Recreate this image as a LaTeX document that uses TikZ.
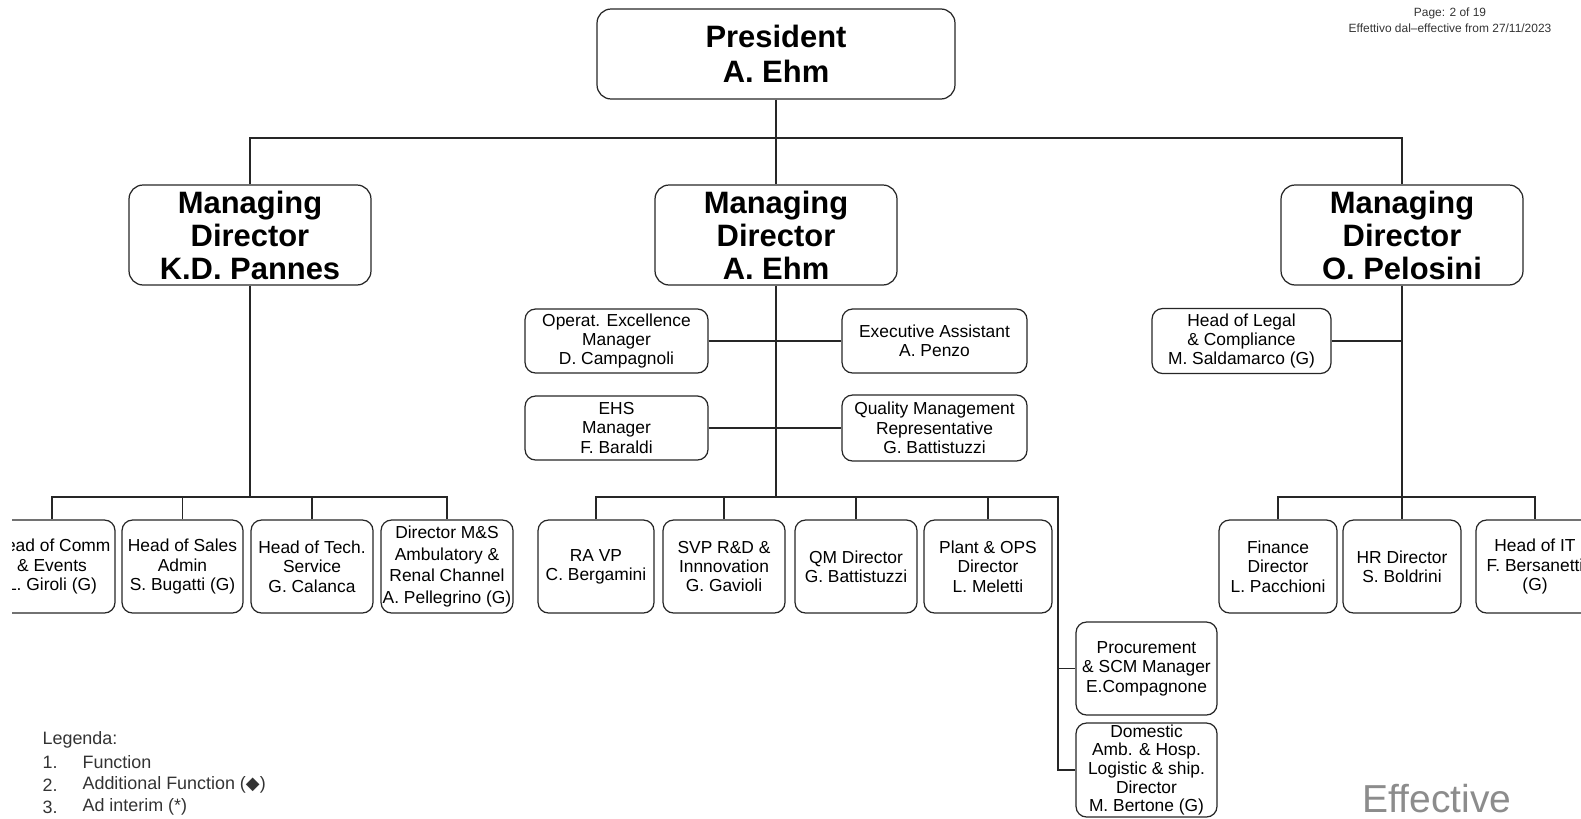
\documentclass[tikz,border=0pt]{standalone}
\usepackage{fontspec}
\setmainfont{Liberation Sans}
\newfontfamily\symbolfont{DejaVu Sans}
\usetikzlibrary{positioning}

\begin{document}
\begin{tikzpicture}[
  x=0.02cm, y=-0.02cm,
  line width=0.7pt,
  head/.style={draw=black!85, rounded corners=8pt, align=center, inner sep=0pt, minimum width=4.84cm, minimum height=2cm, font=\fontsize{17.6}{18.8}\selectfont\bfseries},
  unit/.style={draw=black!85, rounded corners=6pt, align=center, inner sep=0pt, minimum height=1.86cm, font=\fontsize{9.9}{11}\selectfont},
  staff/.style={unit, minimum height=1.28cm},
  legend/.style={anchor=west, inner sep=0pt, text=black!80, font=\fontsize{10.2}{11}\selectfont},
  hdr/.style={inner sep=0pt, text=black!80, font=\fontsize{6.8}{8}\selectfont},
  wire/.style={draw=black!85}
]
\useasboundingbox (0,0) rectangle (1581,818);
\clip (12,0) rectangle (1581,818);

% top of the chart
\node[head, minimum width=7.16cm, minimum height=1.8cm, font=\fontsize{17.6}{20}\selectfont\bfseries] (pres) at (776,54) {President\\A. Ehm};
\node[head] (mdA) at (250,235) {Managing\\Director\\K.D. Pannes};
\node[head] (mdB) at (776,235) {Managing\\Director\\A. Ehm};
\node[head] (mdC) at (1402,235) {Managing\\Director\\O. Pelosini};

\node[hdr] (page) at (1450,13) {Page: 2 of 19};
\node[hdr] (eff) at (1450,28) {Effettivo dal–effective from 27/11/2023};

% staff of the middle director
\node[staff, minimum width=3.66cm] (opex) at (616.5,341) {Operat. Excellence\\Manager\\D. Campagnoli};
\node[staff, minimum width=3.7cm] (exec) at (934.5,341) {Executive Assistant\\A. Penzo};
\node[staff, minimum width=3.66cm] (ehs) at (616.5,428) {EHS\\Manager\\F. Baraldi};
\node[staff, minimum width=3.7cm, minimum height=1.32cm] (qmr) at (934.5,428) {Quality Management\\Representative\\G. Battistuzzi};
\node[staff, minimum width=3.58cm, minimum height=1.3cm] (legal) at (1241.5,341) {Head of Legal\\\& Compliance\\M. Saldamarco (G)};

% first line, left
\node[unit, minimum width=2.52cm] (comm) at (52,566.5) {Head of Comm\\\& Events\\L. Giroli (G)};
\node[unit, minimum width=2.42cm] (sales) at (182.5,566.5) {Head of Sales\\Admin\\S. Bugatti (G)};
\node[unit, minimum width=2.44cm] (tech) at (312,566.5) {Head of Tech.\\Service\\G. Calanca};
\node[unit, minimum width=2.64cm, font=\fontsize{9.9}{12.3}\selectfont] (msdir) at (447,566.5) {Director M\&S\\Ambulatory \&\\Renal Channel\\A. Pellegrino (G)};

% first line, middle
\node[unit, minimum width=2.32cm] (ra) at (596,566.5) {RA VP\\C. Bergamini};
\node[unit, minimum width=2.44cm] (rnd) at (724,566.5) {SVP R\&D \&\\Innnovation\\G. Gavioli};
\node[unit, minimum width=2.44cm] (qm) at (856,566.5) {QM Director\\G. Battistuzzi};
\node[unit, minimum width=2.56cm] (plant) at (988,566.5) {Plant \& OPS\\Director\\L. Meletti};
\node[unit, minimum width=2.82cm] (proc) at (1146.5,668.5) {Procurement\\\& SCM Manager\\E.Compagnone};
\node[unit, minimum width=2.82cm, minimum height=1.88cm, font=\fontsize{9.9}{10.6}\selectfont] (dom) at (1146.5,770) {Domestic\\Amb. \& Hosp.\\Logistic \& ship.\\Director\\M. Bertone (G)};

% first line, right
\node[unit, minimum width=2.36cm] (fin) at (1278,566.5) {Finance\\Director\\L. Pacchioni};
\node[unit, minimum width=2.36cm] (hr) at (1402,566.5) {HR Director\\S. Boldrini};
\node[unit, minimum width=2.36cm] (it) at (1535,566.5) {Head of IT\\F. Bersanetti\\(G)};

% legend
\node[legend] (leg) at (42,740) {Legenda:};
\node[legend] (n1) at (42,762) {1.};
\node[legend] (t1) at (82,762) {Function};
\node[legend] (n2) at (42,785) {2.};
\node[legend] (t2) at (82,785) {Additional Function ({\symbolfont ◆})};
\node[legend] (n3) at (42,807) {3.};
\node[legend] (t3) at (82,807) {Ad interim (*)};
\node[anchor=base west, inner sep=0pt, text=black!45, font=\fontsize{22.2}{24}\selectfont] (wm) at (1362,812) {Effective};

% connectors
\coordinate (topbar) at (776,138);
\coordinate (barA) at (250,497);
\coordinate (barB) at (776,497);
\coordinate (barC) at (1402,497);
\coordinate (spine) at (1058,497);

\draw[wire] (pres.south) -- (mdB.north);
\draw[wire] (mdA.north) |- (topbar) -| (mdC.north);

\draw[wire] (mdA.south) -- (barA);
\draw[wire] (comm.north) |- (barA) -| (msdir.north);
\draw[wire] (sales.north) -- (sales.north |- barA);
\draw[wire] (tech.north) -- (tech.north |- barA);

\draw[wire] (mdB.south) -- (barB);
\draw[wire] (opex.east) -- (exec.west);
\draw[wire] (ehs.east) -- (qmr.west);
\draw[wire] (ra.north) |- (spine) |- (dom.west);
\draw[wire] (proc.west -| spine) -- (proc.west);
\draw[wire] (rnd.north) -- (rnd.north |- barB);
\draw[wire] (qm.north) -- (qm.north |- barB);
\draw[wire] (plant.north) -- (plant.north |- barB);

\draw[wire] (mdC.south) -- (hr.north);
\draw[wire] (legal.east) -- (legal.east -| mdC.south);
\draw[wire] (fin.north) |- (barC) -| (it.north);
\end{tikzpicture}
\end{document}
